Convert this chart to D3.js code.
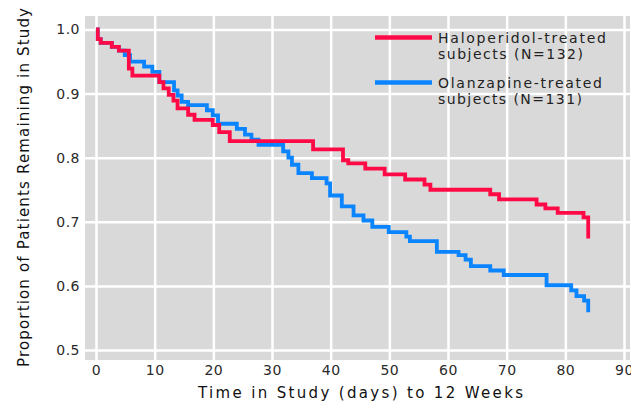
<!DOCTYPE html>
<html><head><meta charset="utf-8">
<script src="https://cdn.jsdelivr.net/npm/d3@7"></script>
<style>body{margin:0;background:#fff}svg{display:block}</style>
</head><body>
<svg id="c" width="631" height="409"></svg>
<script>
// ---- data ----
const haloDays = [0, 0.3, 0.8, 2.7, 3.9, 5.6, 6.2, 10.8, 11.5, 12.4, 13.2, 13.9, 15.7, 16.8, 19.9, 21.0, 22.8, 37.0, 42.1, 43.0, 45.9, 49.2, 52.7, 56.0, 57.0, 67.2, 68.7, 75.1, 76.6, 78.7, 83.1, 83.9];
const haloProp = [1.0, 0.985, 0.979, 0.973, 0.967, 0.939, 0.928, 0.918, 0.908, 0.898, 0.889, 0.877, 0.867, 0.859, 0.851, 0.840, 0.826, 0.813, 0.796, 0.791, 0.783, 0.774, 0.766, 0.758, 0.750, 0.743, 0.735, 0.727, 0.721, 0.714, 0.707, 0.674];
const olanDays = [0, 0.3, 0.8, 2.7, 3.9, 4.9, 5.8, 8.2, 9.6, 10.8, 13.3, 13.9, 14.6, 15.7, 18.9, 19.9, 20.8, 24.0, 25.4, 26.5, 27.7, 31.9, 32.8, 33.4, 34.5, 36.8, 39.3, 39.9, 41.9, 43.9, 45.6, 47.1, 49.9, 52.9, 53.5, 58.1, 61.8, 63.0, 63.9, 67.2, 69.5, 76.8, 81.0, 81.9, 83.2, 83.9];
const olanProp = [1.0, 0.985, 0.979, 0.973, 0.967, 0.960, 0.950, 0.942, 0.934, 0.918, 0.905, 0.897, 0.887, 0.882, 0.874, 0.866, 0.853, 0.845, 0.836, 0.828, 0.820, 0.810, 0.800, 0.789, 0.776, 0.768, 0.760, 0.741, 0.724, 0.710, 0.702, 0.692, 0.684, 0.677, 0.670, 0.653, 0.648, 0.641, 0.631, 0.624, 0.617, 0.601, 0.593, 0.584, 0.577, 0.559];
const xTicks = [0, 10, 20, 30, 40, 50, 60, 70, 80, 90];
const yTicks = [0.5, 0.6, 0.7, 0.8, 0.9, 1.0];
const legendLine1 = ["Haloperidol-treated", "Olanzapine-treated"];
const legendLine2 = ["subjects (N=132)", "subjects (N=131)"];
const seriesColors = ["#ff0a46", "#0a84ff"];
const xTitle = "Time in Study (days) to 12 Weeks";
const yTitle = "Proportion of Patients Remaining in Study";

// ---- drawing ----
const svg = d3.select("#c");
const panel = {l: 85, t: 16, r: 630, b: 360};
const x = d3.scaleLinear().domain([0, 90]).range([96, 624]);
const y = d3.scaleLinear().domain([0.5, 1.0]).range([350, 29.5]);
const font = "'DejaVu Sans', sans-serif";

svg.append("rect").attr("x", panel.l).attr("y", panel.t)
  .attr("width", panel.r - panel.l).attr("height", panel.b - panel.t)
  .attr("fill", "#d9d9d9");

const yAxis = svg.append("g").attr("transform", `translate(${panel.l},0)`)
  .call(d3.axisLeft(y).tickValues(yTicks).tickFormat(d3.format(".1f"))
    .tickSize(-(panel.r - panel.l)).tickPadding(5));
const xAxis = svg.append("g").attr("transform", `translate(0,${panel.b})`)
  .call(d3.axisBottom(x).tickValues(xTicks).tickFormat(d3.format("d"))
    .tickSize(-(panel.b - panel.t)).tickPadding(5));
[xAxis, yAxis].forEach(g => {
  g.select(".domain").remove();
  g.selectAll(".tick line").attr("stroke", "#fff").attr("stroke-width", 2.5);
  g.selectAll(".tick text").attr("fill", "#2a2a2a").style("font-family", font)
    .style("font-size", "14px").style("letter-spacing", "0.5px");
});

const line = d3.line().x(d => x(d[0])).y(d => y(d[1])).curve(d3.curveStepAfter);
const olan = olanDays.map((d, i) => [d, olanProp[i]]);
const halo = haloDays.map((d, i) => [d, haloProp[i]]);
svg.append("path").datum(olan).attr("d", line).attr("fill", "none")
  .attr("stroke", seriesColors[1]).attr("stroke-width", 3.8);
svg.append("path").datum(halo).attr("d", line).attr("fill", "none")
  .attr("stroke", seriesColors[0]).attr("stroke-width", 3.8);

// legend
const legY = [37.5, 82.5];
const widths1 = [168, 164], widths2 = [145, 144];
legY.forEach((ly, i) => {
  svg.append("line").attr("x1", 375).attr("x2", 432).attr("y1", ly).attr("y2", ly)
    .attr("stroke", seriesColors[i]).attr("stroke-width", 4.5);
  svg.append("text").attr("x", 438).attr("y", ly + 5.5).text(legendLine1[i])
    .attr("fill", "#222").style("font-family", font).style("font-size", "14px")
    .attr("textLength", widths1[i]).attr("lengthAdjust", "spacing");
  svg.append("text").attr("x", 438).attr("y", ly + 21.5).text(legendLine2[i])
    .attr("fill", "#222").style("font-family", font).style("font-size", "14px")
    .attr("textLength", widths2[i]).attr("lengthAdjust", "spacing");
});

svg.append("text").attr("x", 198).attr("y", 398).text(xTitle)
  .attr("fill", "#111").style("font-family", font).style("font-size", "15px")
  .attr("textLength", 325).attr("lengthAdjust", "spacing");
svg.append("text").attr("transform", "translate(28.5,367) rotate(-90)").text(yTitle)
  .attr("fill", "#111").style("font-family", font).style("font-size", "15px")
  .attr("textLength", 359).attr("lengthAdjust", "spacing");
</script>
</body></html>
